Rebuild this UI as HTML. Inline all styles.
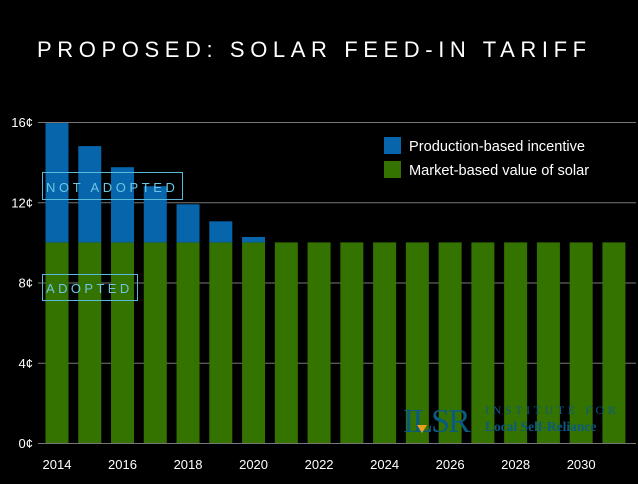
<!DOCTYPE html>
<html><head><meta charset="utf-8"><style>
body{margin:0;background:#000;width:638px;height:479px;overflow:hidden;font-family:"Liberation Sans",sans-serif}
</style></head><body>
<svg width="638" height="479" xmlns="http://www.w3.org/2000/svg">
<text x="37" y="57" fill="#fff" font-size="22" letter-spacing="5.6">PROPOSED: SOLAR FEED-IN TARIFF</text>
<g id="grid"></g>
<g id="bars"></g>
<g id="xlabels"></g>
<g>
<rect x="384" y="137" width="17" height="17" fill="#0665ab"/>
<text x="409" y="151" fill="#fff" font-size="14.6">Production-based incentive</text>
<rect x="384" y="161" width="17" height="17" fill="#357300"/>
<text x="409" y="175" fill="#fff" font-size="14.6">Market-based value of solar</text>
</g>
<g>
<rect x="42.5" y="172.5" width="140" height="27" fill="none" stroke="#5ab8d8" stroke-width="1"/>
<text x="46" y="192" fill="#6cc6e4" font-size="13" letter-spacing="3.6">NOT ADOPTED</text>
</g>
<g>
<rect x="42.5" y="274.5" width="95" height="26" fill="none" stroke="#5ab8d8" stroke-width="1"/>
<text x="46" y="293" fill="#6cc6e4" font-size="13" letter-spacing="3.4">ADOPTED</text>
</g>
<g>
<text x="403" y="432" fill="#0b5a80" font-size="34" font-family="Liberation Serif,serif" letter-spacing="-2">ILSR</text>
<polygon points="417,425 427,425 422,433" fill="#e8a020"/>
<text x="485" y="414" fill="#0b5a80" font-size="12" font-family="Liberation Serif,serif" letter-spacing="3.6">INSTITUTE FOR</text>
<text x="485" y="431" fill="#0b5a80" font-size="13.5" font-weight="bold" font-family="Liberation Serif,serif">Local Self-Reliance</text>
</g>
</svg>
<script>
const years=[2014,2015,2016,2017,2018,2019,2020,2021,2022,2023,2024,2025,2026,2027,2028,2029,2030,2031];
const market=[10,10,10,10,10,10,10,10,10,10,10,10,10,10,10,10,10,10];
const production=[5.95,4.8,3.75,2.8,1.9,1.05,0.27,0,0,0,0,0,0,0,0,0,0,0];
const yTicks=[0,4,8,12,16];
const xTickYears=[2014,2016,2018,2020,2022,2024,2026,2028,2030];
const NS="http://www.w3.org/2000/svg";
const y=v=>443-v*20.06;
const x=yr=>57+(yr-2014)*32.76;
const bw=23;
const grid=document.getElementById('grid'),bars=document.getElementById('bars'),xl=document.getElementById('xlabels');
yTicks.forEach(t=>{
 const l=document.createElementNS(NS,'line');
 l.setAttribute('x1',38);l.setAttribute('x2',636);l.setAttribute('y1',y(t)+0.5);l.setAttribute('y2',y(t)+0.5);
 l.setAttribute('stroke','#777');l.setAttribute('stroke-width',1);
 
 
 grid.appendChild(l);
 const tx=document.createElementNS(NS,'text');
 tx.setAttribute('x',33);tx.setAttribute('y',y(t)+5);tx.setAttribute('text-anchor','end');
 tx.setAttribute('fill','#fff');tx.setAttribute('font-size',13);tx.textContent=t+'¢';
 
 
 grid.appendChild(tx);
});
years.forEach((yr,i)=>{
 const g=document.createElementNS(NS,'rect');
 g.setAttribute('x',x(yr)-bw/2);g.setAttribute('width',bw);
 g.setAttribute('y',y(market[i]));g.setAttribute('height',y(0)-y(market[i]));g.setAttribute('fill','#357300');
 
 
 bars.appendChild(g);
 if(production[i]>0){
  const b=document.createElementNS(NS,'rect');
  b.setAttribute('x',x(yr)-bw/2);b.setAttribute('width',bw);
  b.setAttribute('y',y(market[i]+production[i]));b.setAttribute('height',y(market[i])-y(market[i]+production[i]));b.setAttribute('fill','#0665ab');
  
  
  bars.appendChild(b);
 }
});
xTickYears.forEach(yr=>{
 const tx=document.createElementNS(NS,'text');
 tx.setAttribute('x',x(yr));tx.setAttribute('y',469);tx.setAttribute('text-anchor','middle');
 tx.setAttribute('fill','#fff');tx.setAttribute('font-size',13);tx.textContent=yr;
 
 
 xl.appendChild(tx);
});
</script>
</body></html>
